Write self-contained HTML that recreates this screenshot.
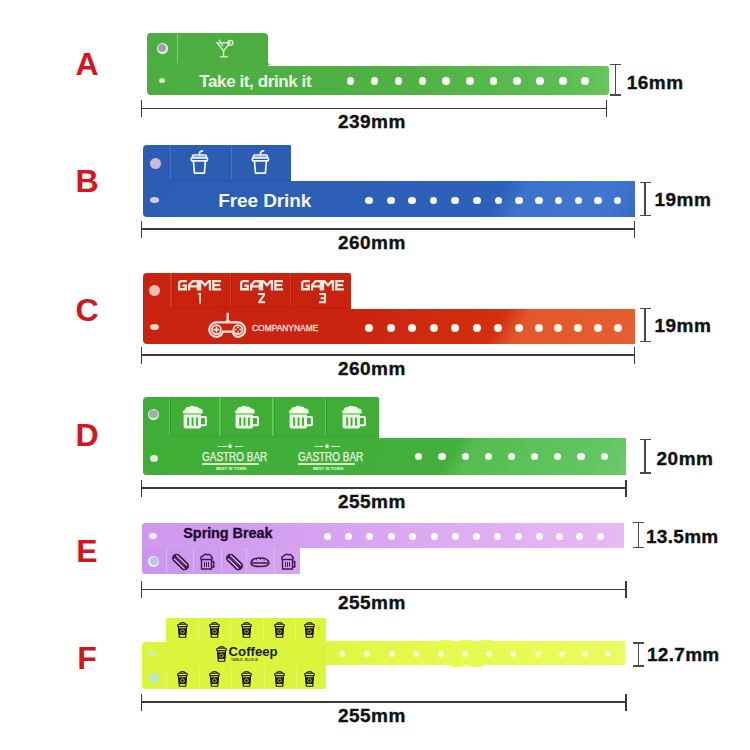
<!DOCTYPE html><html><head><meta charset="utf-8"><style>html,body{margin:0;padding:0;background:#fff;width:750px;height:750px;overflow:hidden;position:relative}</style></head><body>
<div style="position:absolute;left:-213px;width:600px;text-align:center;top:48.28px;font:bold 32px/1 'Liberation Sans', sans-serif;color:#d4151d;letter-spacing:0px;white-space:nowrap;">A</div>
<div style="position:absolute;left:147px;top:33px;width:121px;height:40px;background:#4cad40;border-radius:4px 4px 0 0"></div>
<div style="position:absolute;left:147px;top:65.5px;width:462px;height:29.8px;background:linear-gradient(90deg,#4cad40 0%,#4fb043 55%,#5cbd52 90%,#66c65c 100%);border-radius:0 3px 3px 4px"></div>
<div style="position:absolute;left:268px;top:62px;width:4px;height:3px;background:#4cad40;"></div>
<div style="position:absolute;left:268px;top:59px;width:6px;height:6px;background:#fff;border-radius:0 0 0 4px"></div>
<div style="position:absolute;left:176.5px;top:34px;width:1.2px;height:29px;background:rgba(170,240,150,0.55);"></div>
<div style="position:absolute;left:156.50px;top:42.50px;width:11px;height:11px;border-radius:50%;background:#e8f4e4;"></div>
<div style="position:absolute;left:157.75px;top:43.75px;width:8.5px;height:8.5px;border-radius:50%;background:#a2a0ae;"></div>
<div style="position:absolute;left:159.00px;top:77.50px;width:6px;height:5px;border-radius:50%;background:#d8e8d4;"></div>
<div style="position:absolute;left:199.3px;top:72.68px;font:bold 17px/1 'Liberation Sans', sans-serif;color:#eafbe4;letter-spacing:-0.4px;white-space:nowrap;">Take it, drink it</div>
<div style="position:absolute;left:346.90px;top:77.00px;width:7.6px;height:7.6px;border-radius:50%;background:#fbfff8;"></div>
<div style="position:absolute;left:370.90px;top:77.00px;width:7.6px;height:7.6px;border-radius:50%;background:#fbfff8;"></div>
<div style="position:absolute;left:394.80px;top:77.00px;width:7.6px;height:7.6px;border-radius:50%;background:#fbfff8;"></div>
<div style="position:absolute;left:418.70px;top:77.00px;width:7.6px;height:7.6px;border-radius:50%;background:#fbfff8;"></div>
<div style="position:absolute;left:442.20px;top:77.00px;width:7.6px;height:7.6px;border-radius:50%;background:#fbfff8;"></div>
<div style="position:absolute;left:466.20px;top:77.00px;width:7.6px;height:7.6px;border-radius:50%;background:#fbfff8;"></div>
<div style="position:absolute;left:489.60px;top:77.00px;width:7.6px;height:7.6px;border-radius:50%;background:#fbfff8;"></div>
<div style="position:absolute;left:513.00px;top:77.00px;width:7.6px;height:7.6px;border-radius:50%;background:#fbfff8;"></div>
<div style="position:absolute;left:536.00px;top:77.00px;width:7.6px;height:7.6px;border-radius:50%;background:#fbfff8;"></div>
<div style="position:absolute;left:559.20px;top:77.00px;width:7.6px;height:7.6px;border-radius:50%;background:#fbfff8;"></div>
<div style="position:absolute;left:581.40px;top:77.00px;width:7.6px;height:7.6px;border-radius:50%;background:#fbfff8;"></div>
<svg style="position:absolute;left:214px;top:37px;" width="20" height="22" viewBox="0 0 20 22"><g fill="none" stroke="#e4f8dc" stroke-width="1.3" stroke-linecap="round"><path d="M3 5.8 H16 L9.6 14 Z"/><path d="M9.6 14 V19.8 M6.2 19.8 H13.4"/><circle cx="16.4" cy="5.8" r="2.5"/><path d="M5.2 3 L8.5 9"/></g></svg>
<div style="position:absolute;left:614.85px;top:64.5px;width:1.5px;height:30.5px;background:#4a4a4a;"></div>
<div style="position:absolute;left:610.1px;top:63.75px;width:11px;height:1.5px;background:#4a4a4a;"></div>
<div style="position:absolute;left:610.1px;top:94.25px;width:11px;height:1.5px;background:#4a4a4a;"></div>
<div style="position:absolute;left:626.8px;top:72.96px;font:bold 19px/1 'Liberation Sans', sans-serif;color:#111;letter-spacing:0.45px;white-space:nowrap;-webkit-text-stroke:0.35px #111">16mm</div>
<div style="position:absolute;left:141.7px;top:107.5px;width:464.59999999999997px;height:1.6px;background:#3a3a3a;"></div>
<div style="position:absolute;left:140.89999999999998px;top:99.7px;width:1.6px;height:17.299999999999997px;background:#3a3a3a;"></div>
<div style="position:absolute;left:605.5px;top:99.7px;width:1.6px;height:17.299999999999997px;background:#3a3a3a;"></div>
<div style="position:absolute;left:338px;top:112.26px;font:bold 19px/1 'Liberation Sans', sans-serif;color:#111;letter-spacing:0.45px;white-space:nowrap;-webkit-text-stroke:0.35px #111">239mm</div>
<div style="position:absolute;left:-213px;width:600px;text-align:center;top:165.28px;font:bold 32px/1 'Liberation Sans', sans-serif;color:#d4151d;letter-spacing:0px;white-space:nowrap;">B</div>
<div style="position:absolute;left:143px;top:145px;width:148px;height:40px;background:#2c5db3;border-radius:4px 1px 0 0"></div>
<div style="position:absolute;left:143px;top:181px;width:492px;height:35.5px;background:linear-gradient(120deg,#2c5db3 2.0%, #2d60ba 71.1%, #3c72cc 75.8%, #4076d0 91.2%, #3a6dc8 99.0%);border-radius:0 0 0 4px"></div>
<div style="position:absolute;left:170px;top:146px;width:1px;height:34px;background:rgba(120,160,230,0.35);"></div>
<div style="position:absolute;left:230.5px;top:146px;width:1px;height:34px;background:rgba(120,160,230,0.35);"></div>
<div style="position:absolute;left:170px;top:179.5px;width:121px;height:1px;background:rgba(30,60,130,0.3);"></div>
<div style="position:absolute;left:149.50px;top:157.50px;width:11px;height:11px;border-radius:50%;background:#cbb6d6;"></div>
<div style="position:absolute;left:150.00px;top:197.05px;width:9px;height:5.5px;border-radius:50%;background:#dcc8e2;"></div>
<svg style="position:absolute;left:190px;top:150px;" width="19" height="25" viewBox="0 0 19 25"><g fill="none" stroke="#f2f4fb" stroke-width="1.7" stroke-linejoin="round" stroke-linecap="round"><path d="M9.5 5 V3.2 Q9.8 1.2 12.6 0.9"/><rect x="2.6" y="5" width="13.6" height="2.6" rx="0.8"/><rect x="1.4" y="7.6" width="16" height="3.2" rx="0.8"/><path d="M3.4 10.8 L4.5 23.2 H14.4 L15.4 10.8"/></g></svg>
<svg style="position:absolute;left:251px;top:150px;" width="19" height="25" viewBox="0 0 19 25"><g fill="none" stroke="#f2f4fb" stroke-width="1.7" stroke-linejoin="round" stroke-linecap="round"><path d="M9.5 5 V3.2 Q9.8 1.2 12.6 0.9"/><rect x="2.6" y="5" width="13.6" height="2.6" rx="0.8"/><rect x="1.4" y="7.6" width="16" height="3.2" rx="0.8"/><path d="M3.4 10.8 L4.5 23.2 H14.4 L15.4 10.8"/></g></svg>
<div style="position:absolute;left:218.3px;top:190.66px;font:bold 19px/1 'Liberation Sans', sans-serif;color:#f4f7fd;letter-spacing:-0.1px;white-space:nowrap;">Free Drink</div>
<div style="position:absolute;left:365.30px;top:196.60px;width:7.8px;height:7.8px;border-radius:50%;background:#fbfcff;"></div>
<div style="position:absolute;left:386.90px;top:196.60px;width:7.8px;height:7.8px;border-radius:50%;background:#fbfcff;"></div>
<div style="position:absolute;left:408.10px;top:196.60px;width:7.8px;height:7.8px;border-radius:50%;background:#fbfcff;"></div>
<div style="position:absolute;left:429.70px;top:196.60px;width:7.8px;height:7.8px;border-radius:50%;background:#fbfcff;"></div>
<div style="position:absolute;left:451.30px;top:196.60px;width:7.8px;height:7.8px;border-radius:50%;background:#fbfcff;"></div>
<div style="position:absolute;left:472.90px;top:196.60px;width:7.8px;height:7.8px;border-radius:50%;background:#fbfcff;"></div>
<div style="position:absolute;left:494.50px;top:196.60px;width:7.8px;height:7.8px;border-radius:50%;background:#fbfcff;"></div>
<div style="position:absolute;left:514.90px;top:196.60px;width:7.8px;height:7.8px;border-radius:50%;background:#fbfcff;"></div>
<div style="position:absolute;left:534.90px;top:196.60px;width:7.8px;height:7.8px;border-radius:50%;background:#fbfcff;"></div>
<div style="position:absolute;left:554.50px;top:196.60px;width:7.8px;height:7.8px;border-radius:50%;background:#fbfcff;"></div>
<div style="position:absolute;left:574.50px;top:196.60px;width:7.8px;height:7.8px;border-radius:50%;background:#fbfcff;"></div>
<div style="position:absolute;left:594.10px;top:196.60px;width:7.8px;height:7.8px;border-radius:50%;background:#fbfcff;"></div>
<div style="position:absolute;left:613.70px;top:196.60px;width:7.8px;height:7.8px;border-radius:50%;background:#fbfcff;"></div>
<div style="position:absolute;left:644.25px;top:182.7px;width:1.5px;height:33.0px;background:#4a4a4a;"></div>
<div style="position:absolute;left:639.5px;top:181.95px;width:11px;height:1.5px;background:#4a4a4a;"></div>
<div style="position:absolute;left:639.5px;top:214.95px;width:11px;height:1.5px;background:#4a4a4a;"></div>
<div style="position:absolute;left:654.5px;top:190.26px;font:bold 19px/1 'Liberation Sans', sans-serif;color:#111;letter-spacing:0.45px;white-space:nowrap;-webkit-text-stroke:0.35px #111">19mm</div>
<div style="position:absolute;left:141.7px;top:228.39999999999998px;width:492.7px;height:1.6px;background:#3a3a3a;"></div>
<div style="position:absolute;left:140.89999999999998px;top:221.3px;width:1.6px;height:16.799999999999983px;background:#3a3a3a;"></div>
<div style="position:absolute;left:633.6px;top:221.3px;width:1.6px;height:16.799999999999983px;background:#3a3a3a;"></div>
<div style="position:absolute;left:338px;top:232.66px;font:bold 19px/1 'Liberation Sans', sans-serif;color:#111;letter-spacing:0.45px;white-space:nowrap;-webkit-text-stroke:0.35px #111">260mm</div>
<div style="position:absolute;left:-213px;width:600px;text-align:center;top:294.48px;font:bold 32px/1 'Liberation Sans', sans-serif;color:#d4151d;letter-spacing:0px;white-space:nowrap;">C</div>
<div style="position:absolute;left:143px;top:272.5px;width:208px;height:40px;background:#c9230f;border-radius:4px 2px 0 0"></div>
<div style="position:absolute;left:143px;top:308.5px;width:492px;height:35px;background:linear-gradient(120deg,#c9230f 2.0%, #ca2410 42.4%, #d2300f 71.1%, #e3572a 75.8%, #e55f30 99.0%);border-radius:0 0 0 4px"></div>
<div style="position:absolute;left:170.4px;top:273px;width:1.2px;height:34px;background:rgba(235,90,70,0.45);"></div>
<div style="position:absolute;left:171.6px;top:273px;width:1px;height:34px;background:rgba(140,15,5,0.3);"></div>
<div style="position:absolute;left:230.0px;top:273px;width:1.2px;height:34px;background:rgba(235,90,70,0.45);"></div>
<div style="position:absolute;left:231.2px;top:273px;width:1px;height:34px;background:rgba(140,15,5,0.3);"></div>
<div style="position:absolute;left:289.79999999999995px;top:273px;width:1.2px;height:34px;background:rgba(235,90,70,0.45);"></div>
<div style="position:absolute;left:291.0px;top:273px;width:1px;height:34px;background:rgba(140,15,5,0.3);"></div>
<div style="position:absolute;left:171px;top:307px;width:180px;height:1px;background:rgba(150,15,5,0.2);"></div>
<div style="position:absolute;left:149.20px;top:284.50px;width:11px;height:11px;border-radius:50%;background:#f2bdb2;"></div>
<div style="position:absolute;left:149.80px;top:324.30px;width:9px;height:6px;border-radius:50%;background:#f8d8cc;"></div>
<svg style="position:absolute;left:177.7px;top:280.2px;" width="43" height="10.5" viewBox="0 0 43 10.5"><g fill="none" stroke="#fbe9de" stroke-width="2.3" stroke-linejoin="miter"><path d="M8.8 1.15 H3.5 Q1.15 1.15 1.15 3.5 V9.25 H7.75 V5.6 H4.4"/><path d="M11.15 10.4 V5 L14.6 1.15 H19.85 V10.4 M11.15 6.3 H19.85"/><path d="M22.05 10.4 V1.05 H23.2 L27 5.3 L30.8 1.05 H31.95 V10.4"/><path d="M43 1.05 H35.35 V9.35 H43 M35.35 5.2 H42.2"/></g></svg>
<svg style="position:absolute;left:196.95px;top:293px;" width="4.5" height="10.5" viewBox="0 0 4.5 10.5"><path d="M3.4 10.4 V1.05 H1.2" fill="none" stroke="#fbe9de" stroke-width="2.1"/></svg>
<svg style="position:absolute;left:239.5px;top:280.2px;" width="43" height="10.5" viewBox="0 0 43 10.5"><g fill="none" stroke="#fbe9de" stroke-width="2.3" stroke-linejoin="miter"><path d="M8.8 1.15 H3.5 Q1.15 1.15 1.15 3.5 V9.25 H7.75 V5.6 H4.4"/><path d="M11.15 10.4 V5 L14.6 1.15 H19.85 V10.4 M11.15 6.3 H19.85"/><path d="M22.05 10.4 V1.05 H23.2 L27 5.3 L30.8 1.05 H31.95 V10.4"/><path d="M43 1.05 H35.35 V9.35 H43 M35.35 5.2 H42.2"/></g></svg>
<svg style="position:absolute;left:257.5px;top:293px;" width="7" height="10.5" viewBox="0 0 7 10.5"><path d="M0 1.05 H6.8 L1 9.35 H7" fill="none" stroke="#fbe9de" stroke-width="2"/></svg>
<svg style="position:absolute;left:300.5px;top:280.2px;" width="43" height="10.5" viewBox="0 0 43 10.5"><g fill="none" stroke="#fbe9de" stroke-width="2.3" stroke-linejoin="miter"><path d="M8.8 1.15 H3.5 Q1.15 1.15 1.15 3.5 V9.25 H7.75 V5.6 H4.4"/><path d="M11.15 10.4 V5 L14.6 1.15 H19.85 V10.4 M11.15 6.3 H19.85"/><path d="M22.05 10.4 V1.05 H23.2 L27 5.3 L30.8 1.05 H31.95 V10.4"/><path d="M43 1.05 H35.35 V9.35 H43 M35.35 5.2 H42.2"/></g></svg>
<svg style="position:absolute;left:318.5px;top:293px;" width="7" height="10.5" viewBox="0 0 7 10.5"><path d="M0 1.05 H5.95 V9.35 H0 M1.6 5.2 H5.95" fill="none" stroke="#fbe9de" stroke-width="2"/></svg>
<svg style="position:absolute;left:206px;top:311px;" width="44" height="30" viewBox="0 0 44 30"><g fill="none" stroke="#fae4dc" stroke-width="2.3"><path d="M21.7 1.8 V10"/><path d="M10.5 11.4 H31.9 A7.2 7.2 0 0 1 31.9 25.8 Q28.3 25.8 26.6 20.6 H16.8 Q15.1 25.8 10.5 25.8 A7.2 7.2 0 0 1 10.5 11.4 Z"/><circle cx="10.5" cy="18.6" r="4.5" stroke-width="1.7"/><circle cx="31.9" cy="18.6" r="4.5" stroke-width="1.7"/></g><path d="M19.6 9.3 h4.2 v2 h-4.2z" fill="#fae4dc"/><g fill="#fae4dc"><path d="M9.7 15.6 h1.6 v2.2 h2.2 v1.6 h-2.2 v2.2 h-1.6 v-2.2 h-2.2 v-1.6 h2.2z"/><circle cx="31.9" cy="16.3" r="1"/><circle cx="31.9" cy="20.9" r="1"/><circle cx="29.6" cy="18.6" r="1"/><circle cx="34.2" cy="18.6" r="1"/></g></svg>
<div style="position:absolute;left:252px;top:323.43px;font:normal 9.8px/1 'Liberation Sans', sans-serif;color:#fbe4dc;letter-spacing:0px;white-space:nowrap;transform:scaleX(0.86);transform-origin:0 0;-webkit-text-stroke:0.3px #fbe4dc">COMPANYNAME</div>
<div style="position:absolute;left:365.20px;top:324.20px;width:8px;height:8px;border-radius:50%;background:#fff6ea;"></div>
<div style="position:absolute;left:386.80px;top:324.20px;width:8px;height:8px;border-radius:50%;background:#fff6ea;"></div>
<div style="position:absolute;left:408.00px;top:324.20px;width:8px;height:8px;border-radius:50%;background:#fff6ea;"></div>
<div style="position:absolute;left:429.60px;top:324.20px;width:8px;height:8px;border-radius:50%;background:#fff6ea;"></div>
<div style="position:absolute;left:451.20px;top:324.20px;width:8px;height:8px;border-radius:50%;background:#fff6ea;"></div>
<div style="position:absolute;left:472.80px;top:324.20px;width:8px;height:8px;border-radius:50%;background:#fff6ea;"></div>
<div style="position:absolute;left:494.40px;top:324.20px;width:8px;height:8px;border-radius:50%;background:#fff6ea;"></div>
<div style="position:absolute;left:514.80px;top:324.20px;width:8px;height:8px;border-radius:50%;background:#fff6ea;"></div>
<div style="position:absolute;left:534.80px;top:324.20px;width:8px;height:8px;border-radius:50%;background:#fff6ea;"></div>
<div style="position:absolute;left:554.40px;top:324.20px;width:8px;height:8px;border-radius:50%;background:#fff6ea;"></div>
<div style="position:absolute;left:574.40px;top:324.20px;width:8px;height:8px;border-radius:50%;background:#fff6ea;"></div>
<div style="position:absolute;left:594.00px;top:324.20px;width:8px;height:8px;border-radius:50%;background:#fff6ea;"></div>
<div style="position:absolute;left:613.60px;top:324.20px;width:8px;height:8px;border-radius:50%;background:#fff6ea;"></div>
<div style="position:absolute;left:644.25px;top:308.6px;width:1.5px;height:33.099999999999966px;background:#4a4a4a;"></div>
<div style="position:absolute;left:639.5px;top:307.85px;width:11px;height:1.5px;background:#4a4a4a;"></div>
<div style="position:absolute;left:639.5px;top:340.95px;width:11px;height:1.5px;background:#4a4a4a;"></div>
<div style="position:absolute;left:654.5px;top:316.26px;font:bold 19px/1 'Liberation Sans', sans-serif;color:#111;letter-spacing:0.45px;white-space:nowrap;-webkit-text-stroke:0.35px #111">19mm</div>
<div style="position:absolute;left:141.7px;top:354.0px;width:492.7px;height:1.6px;background:#3a3a3a;"></div>
<div style="position:absolute;left:140.89999999999998px;top:347px;width:1.6px;height:16.69999999999999px;background:#3a3a3a;"></div>
<div style="position:absolute;left:633.6px;top:347px;width:1.6px;height:16.69999999999999px;background:#3a3a3a;"></div>
<div style="position:absolute;left:338px;top:358.66px;font:bold 19px/1 'Liberation Sans', sans-serif;color:#111;letter-spacing:0.45px;white-space:nowrap;-webkit-text-stroke:0.35px #111">260mm</div>
<div style="position:absolute;left:-213px;width:600px;text-align:center;top:418.88px;font:bold 32px/1 'Liberation Sans', sans-serif;color:#d4151d;letter-spacing:0px;white-space:nowrap;">D</div>
<div style="position:absolute;left:143px;top:397.2px;width:236px;height:78px;background:#40ad37;border-radius:4px 2px 0 4px"></div>
<div style="position:absolute;left:143px;top:438px;width:483px;height:36.5px;background:linear-gradient(120deg,#40ad37 2.1%, #44b03b 63.0%, #55bd50 66.5%, #62c662 92.7%, #6acb6a 98.7%);border-radius:0 0 0 4px"></div>
<div style="position:absolute;left:168.5px;top:398px;width:1.6px;height:38px;background:rgba(130,220,110,0.55);"></div>
<div style="position:absolute;left:170.1px;top:398px;width:1px;height:38px;background:rgba(30,110,25,0.3);"></div>
<div style="position:absolute;left:219.3px;top:398px;width:1.6px;height:38px;background:rgba(130,220,110,0.55);"></div>
<div style="position:absolute;left:220.9px;top:398px;width:1px;height:38px;background:rgba(30,110,25,0.3);"></div>
<div style="position:absolute;left:272.1px;top:398px;width:1.6px;height:38px;background:rgba(130,220,110,0.55);"></div>
<div style="position:absolute;left:273.70000000000005px;top:398px;width:1px;height:38px;background:rgba(30,110,25,0.3);"></div>
<div style="position:absolute;left:324.5px;top:398px;width:1.6px;height:38px;background:rgba(130,220,110,0.55);"></div>
<div style="position:absolute;left:326.1px;top:398px;width:1px;height:38px;background:rgba(30,110,25,0.3);"></div>
<div style="position:absolute;left:169px;top:436px;width:210px;height:1px;background:rgba(40,110,35,0.15);"></div>
<div style="position:absolute;left:148.20px;top:408.50px;width:11px;height:11px;border-radius:50%;background:#e4f0e0;"></div>
<div style="position:absolute;left:149.45px;top:409.75px;width:8.5px;height:8.5px;border-radius:50%;background:#a8aab2;"></div>
<div style="position:absolute;left:149.70px;top:455.05px;width:8px;height:6.5px;border-radius:50%;background:#dde8da;"></div>
<svg style="position:absolute;left:182.0px;top:405.3px;" width="26" height="24" viewBox="0 0 26 24"><g fill="#eaffe4"><path d="M1.5 8.5 Q0 5.5 3 4.8 Q3.5 1.5 7 2 Q9.5 -0.3 12.5 1.6 Q15.5 0.8 17.2 3.5 Q21 3.5 20.7 7 Q21 8.5 20 8.6 H1.5 Z"/><path d="M1.6 9.6 H19 V21.5 Q19 23.5 17 23.5 H3.6 Q1.6 23.5 1.6 21.5 Z"/><path d="M19 11 H23.2 Q25 11 25 12.8 V19.5 Q25 21.3 23.2 21.3 H19 V19.3 H22.9 V13 H19 Z"/></g><g fill="#40ad37"><rect x="5.2" y="12.2" width="1.9" height="8.8" rx="0.9"/><rect x="9.6" y="12.2" width="1.9" height="8.8" rx="0.9"/><rect x="14" y="12.2" width="1.9" height="8.8" rx="0.9"/></g></svg>
<svg style="position:absolute;left:233.7px;top:405.3px;" width="26" height="24" viewBox="0 0 26 24"><g fill="#eaffe4"><path d="M1.5 8.5 Q0 5.5 3 4.8 Q3.5 1.5 7 2 Q9.5 -0.3 12.5 1.6 Q15.5 0.8 17.2 3.5 Q21 3.5 20.7 7 Q21 8.5 20 8.6 H1.5 Z"/><path d="M1.6 9.6 H19 V21.5 Q19 23.5 17 23.5 H3.6 Q1.6 23.5 1.6 21.5 Z"/><path d="M19 11 H23.2 Q25 11 25 12.8 V19.5 Q25 21.3 23.2 21.3 H19 V19.3 H22.9 V13 H19 Z"/></g><g fill="#40ad37"><rect x="5.2" y="12.2" width="1.9" height="8.8" rx="0.9"/><rect x="9.6" y="12.2" width="1.9" height="8.8" rx="0.9"/><rect x="14" y="12.2" width="1.9" height="8.8" rx="0.9"/></g></svg>
<svg style="position:absolute;left:287.7px;top:405.3px;" width="26" height="24" viewBox="0 0 26 24"><g fill="#eaffe4"><path d="M1.5 8.5 Q0 5.5 3 4.8 Q3.5 1.5 7 2 Q9.5 -0.3 12.5 1.6 Q15.5 0.8 17.2 3.5 Q21 3.5 20.7 7 Q21 8.5 20 8.6 H1.5 Z"/><path d="M1.6 9.6 H19 V21.5 Q19 23.5 17 23.5 H3.6 Q1.6 23.5 1.6 21.5 Z"/><path d="M19 11 H23.2 Q25 11 25 12.8 V19.5 Q25 21.3 23.2 21.3 H19 V19.3 H22.9 V13 H19 Z"/></g><g fill="#40ad37"><rect x="5.2" y="12.2" width="1.9" height="8.8" rx="0.9"/><rect x="9.6" y="12.2" width="1.9" height="8.8" rx="0.9"/><rect x="14" y="12.2" width="1.9" height="8.8" rx="0.9"/></g></svg>
<svg style="position:absolute;left:340.5px;top:405.3px;" width="26" height="24" viewBox="0 0 26 24"><g fill="#eaffe4"><path d="M1.5 8.5 Q0 5.5 3 4.8 Q3.5 1.5 7 2 Q9.5 -0.3 12.5 1.6 Q15.5 0.8 17.2 3.5 Q21 3.5 20.7 7 Q21 8.5 20 8.6 H1.5 Z"/><path d="M1.6 9.6 H19 V21.5 Q19 23.5 17 23.5 H3.6 Q1.6 23.5 1.6 21.5 Z"/><path d="M19 11 H23.2 Q25 11 25 12.8 V19.5 Q25 21.3 23.2 21.3 H19 V19.3 H22.9 V13 H19 Z"/></g><g fill="#40ad37"><rect x="5.2" y="12.2" width="1.9" height="8.8" rx="0.9"/><rect x="9.6" y="12.2" width="1.9" height="8.8" rx="0.9"/><rect x="14" y="12.2" width="1.9" height="8.8" rx="0.9"/></g></svg>
<div style="position:absolute;left:218.0px;top:445.5px;width:8.5px;height:1.3px;background:#e6f8df;"></div>
<div style="position:absolute;left:234.5px;top:445.5px;width:8.5px;height:1.3px;background:#e6f8df;"></div>
<svg style="position:absolute;left:227.0px;top:442.5px;" width="6" height="6" viewBox="0 0 6 6"><path d="M3 0.3 L3.8 2.2 L5.8 2.3 L4.3 3.6 L4.8 5.6 L3 4.5 L1.2 5.6 L1.7 3.6 L0.2 2.3 L2.2 2.2 Z" fill="#e6f8df"/></svg>
<div style="position:absolute;left:201.5px;top:451.23px;font:normal 12.3px/1 'Liberation Sans', sans-serif;color:#e8fae2;letter-spacing:0px;white-space:nowrap;transform:scaleX(0.81);transform-origin:0 0;-webkit-text-stroke:0.25px #e8fae2">GASTRO BAR</div>
<div style="position:absolute;left:201.5px;top:463.3px;width:57px;height:1.5px;background:rgba(225,245,215,0.9);"></div>
<div style="position:absolute;left:216.0px;top:466.53px;font:bold 4.2px/1 'Liberation Sans', sans-serif;color:#e8fae2;letter-spacing:0px;white-space:nowrap;">BEST IN TOWN</div>
<div style="position:absolute;left:314.9px;top:445.5px;width:8.5px;height:1.3px;background:#e6f8df;"></div>
<div style="position:absolute;left:331.4px;top:445.5px;width:8.5px;height:1.3px;background:#e6f8df;"></div>
<svg style="position:absolute;left:323.9px;top:442.5px;" width="6" height="6" viewBox="0 0 6 6"><path d="M3 0.3 L3.8 2.2 L5.8 2.3 L4.3 3.6 L4.8 5.6 L3 4.5 L1.2 5.6 L1.7 3.6 L0.2 2.3 L2.2 2.2 Z" fill="#e6f8df"/></svg>
<div style="position:absolute;left:298.4px;top:451.23px;font:normal 12.3px/1 'Liberation Sans', sans-serif;color:#e8fae2;letter-spacing:0px;white-space:nowrap;transform:scaleX(0.81);transform-origin:0 0;-webkit-text-stroke:0.25px #e8fae2">GASTRO BAR</div>
<div style="position:absolute;left:298.4px;top:463.3px;width:57px;height:1.5px;background:rgba(225,245,215,0.9);"></div>
<div style="position:absolute;left:312.9px;top:466.53px;font:bold 4.2px/1 'Liberation Sans', sans-serif;color:#e8fae2;letter-spacing:0px;white-space:nowrap;">BEST IN TOWN</div>
<div style="position:absolute;left:415.30px;top:453.10px;width:7.2px;height:7.2px;border-radius:50%;background:#f8fff6;"></div>
<div style="position:absolute;left:438.45px;top:453.10px;width:7.2px;height:7.2px;border-radius:50%;background:#f8fff6;"></div>
<div style="position:absolute;left:461.60px;top:453.10px;width:7.2px;height:7.2px;border-radius:50%;background:#f8fff6;"></div>
<div style="position:absolute;left:484.75px;top:453.10px;width:7.2px;height:7.2px;border-radius:50%;background:#f8fff6;"></div>
<div style="position:absolute;left:507.90px;top:453.10px;width:7.2px;height:7.2px;border-radius:50%;background:#f8fff6;"></div>
<div style="position:absolute;left:531.05px;top:453.10px;width:7.2px;height:7.2px;border-radius:50%;background:#f8fff6;"></div>
<div style="position:absolute;left:554.20px;top:453.10px;width:7.2px;height:7.2px;border-radius:50%;background:#f8fff6;"></div>
<div style="position:absolute;left:577.35px;top:453.10px;width:7.2px;height:7.2px;border-radius:50%;background:#f8fff6;"></div>
<div style="position:absolute;left:600.50px;top:453.10px;width:7.2px;height:7.2px;border-radius:50%;background:#f8fff6;"></div>
<div style="position:absolute;left:644.25px;top:439.4px;width:1.5px;height:33.60000000000002px;background:#4a4a4a;"></div>
<div style="position:absolute;left:639.5px;top:438.65px;width:11px;height:1.5px;background:#4a4a4a;"></div>
<div style="position:absolute;left:639.5px;top:472.25px;width:11px;height:1.5px;background:#4a4a4a;"></div>
<div style="position:absolute;left:656.6px;top:448.96px;font:bold 19px/1 'Liberation Sans', sans-serif;color:#111;letter-spacing:0.45px;white-space:nowrap;-webkit-text-stroke:0.35px #111">20mm</div>
<div style="position:absolute;left:141.5px;top:487.2px;width:484.5px;height:1.6px;background:#3a3a3a;"></div>
<div style="position:absolute;left:140.7px;top:479.6px;width:1.6px;height:17.399999999999977px;background:#3a3a3a;"></div>
<div style="position:absolute;left:625.2px;top:479.6px;width:1.6px;height:17.399999999999977px;background:#3a3a3a;"></div>
<div style="position:absolute;left:338px;top:492.26px;font:bold 19px/1 'Liberation Sans', sans-serif;color:#111;letter-spacing:0.45px;white-space:nowrap;-webkit-text-stroke:0.35px #111">255mm</div>
<div style="position:absolute;left:-213px;width:600px;text-align:center;top:535.28px;font:bold 32px/1 'Liberation Sans', sans-serif;color:#d4151d;letter-spacing:0px;white-space:nowrap;">E</div>
<div style="position:absolute;left:142.3px;top:522.7px;width:158px;height:51px;background:#cf98ee;border-radius:4px 0 0 4px"></div>
<div style="position:absolute;left:142.3px;top:522.7px;width:482px;height:25.3px;background:linear-gradient(90deg,#cf98ee 0%,#d5a0f0 30%,#dcaaf2 60%,#e2b2f3 80%,#e8b9f5 100%);border-radius:4px 0 0 0"></div>
<div style="position:absolute;left:142.3px;top:548px;width:158px;height:25.5px;background:linear-gradient(90deg,#cc94ed,#d6a4f0);border-radius:0 0 0 4px"></div>
<div style="position:absolute;left:166.3px;top:548px;width:1.2px;height:25px;background:rgba(230,190,250,0.7);"></div>
<div style="position:absolute;left:193px;top:548px;width:1.2px;height:25px;background:rgba(230,190,250,0.7);"></div>
<div style="position:absolute;left:220.5px;top:548px;width:1.2px;height:25px;background:rgba(230,190,250,0.7);"></div>
<div style="position:absolute;left:246.2px;top:548px;width:1.2px;height:25px;background:rgba(230,190,250,0.7);"></div>
<div style="position:absolute;left:273.9px;top:548px;width:1.2px;height:25px;background:rgba(230,190,250,0.7);"></div>
<div style="position:absolute;left:149.00px;top:532.70px;width:8px;height:6px;border-radius:50%;background:#f6f0fb;"></div>
<div style="position:absolute;left:148.20px;top:555.50px;width:11px;height:11px;border-radius:50%;background:#e8eef6;"></div>
<div style="position:absolute;left:149.70px;top:557.00px;width:8px;height:8px;border-radius:50%;background:#b9c8dc;"></div>
<div style="position:absolute;left:183.3px;top:526.28px;font:bold 14.5px/1 'Liberation Sans', sans-serif;color:#1e0a2c;letter-spacing:-0.1px;white-space:nowrap;-webkit-text-stroke:0.3px #1e0a2c">Spring Break</div>
<div style="position:absolute;left:323.50px;top:533.40px;width:7px;height:7px;border-radius:50%;background:#fdf8ff;"></div>
<div style="position:absolute;left:345.10px;top:533.40px;width:7px;height:7px;border-radius:50%;background:#fdf8ff;"></div>
<div style="position:absolute;left:366.10px;top:533.40px;width:7px;height:7px;border-radius:50%;background:#fdf8ff;"></div>
<div style="position:absolute;left:387.50px;top:533.40px;width:7px;height:7px;border-radius:50%;background:#fdf8ff;"></div>
<div style="position:absolute;left:409.10px;top:533.40px;width:7px;height:7px;border-radius:50%;background:#fdf8ff;"></div>
<div style="position:absolute;left:430.50px;top:533.40px;width:7px;height:7px;border-radius:50%;background:#fdf8ff;"></div>
<div style="position:absolute;left:451.90px;top:533.40px;width:7px;height:7px;border-radius:50%;background:#fdf8ff;"></div>
<div style="position:absolute;left:472.50px;top:533.40px;width:7px;height:7px;border-radius:50%;background:#fdf8ff;"></div>
<div style="position:absolute;left:493.90px;top:533.40px;width:7px;height:7px;border-radius:50%;background:#fdf8ff;"></div>
<div style="position:absolute;left:515.10px;top:533.40px;width:7px;height:7px;border-radius:50%;background:#fdf8ff;"></div>
<div style="position:absolute;left:535.90px;top:533.40px;width:7px;height:7px;border-radius:50%;background:#fdf8ff;"></div>
<div style="position:absolute;left:555.90px;top:533.40px;width:7px;height:7px;border-radius:50%;background:#fdf8ff;"></div>
<div style="position:absolute;left:575.90px;top:533.40px;width:7px;height:7px;border-radius:50%;background:#fdf8ff;"></div>
<div style="position:absolute;left:596.50px;top:533.40px;width:7px;height:7px;border-radius:50%;background:#fdf8ff;"></div>
<svg style="position:absolute;left:170px;top:551.7px;" width="21" height="20" viewBox="0 0 21 20"><g transform="translate(10.5 10) rotate(44)"><rect x="-10" y="-4.4" width="20" height="8.8" rx="4.2" fill="#3a1a4c"/><path d="M-7.6 -2 H7.2" stroke="#dcbcef" stroke-width="1.3"/><path d="M-7.2 2 H7.6" stroke="#dcbcef" stroke-width="1.3"/><path d="M-6 0 l1.5 -0.6 l1.5 0.6 l1.5 -0.6 l1.5 0.6 l1.5 -0.6 l1.5 0.6 l1.5 -0.6" stroke="#8a5aa8" stroke-width="0.5" fill="none"/></g></svg>
<svg style="position:absolute;left:198.8px;top:552.5px;" width="17" height="18" viewBox="0 0 17 18"><g fill="none" stroke="#3a1a4c" stroke-width="1.4" stroke-linejoin="round"><path d="M2 6.5 Q1 3.5 4 3 Q5.5 0.3 8.5 1.8 Q11 0.8 12 3.5 Q14 4 13 6.5"/><path d="M2.5 6.5 H12.5 V16 H2.5 Z"/><path d="M12.5 8.5 H14.8 V14 H12.5"/><path d="M5.5 9 V14 M7.5 9 V14 M9.5 9 V14" stroke-width="1"/></g></svg>
<svg style="position:absolute;left:223.5px;top:551.7px;" width="21" height="20" viewBox="0 0 21 20"><g transform="translate(10.5 10) rotate(44)"><rect x="-10" y="-4.4" width="20" height="8.8" rx="4.2" fill="#3a1a4c"/><path d="M-7.6 -2 H7.2" stroke="#dcbcef" stroke-width="1.3"/><path d="M-7.2 2 H7.6" stroke="#dcbcef" stroke-width="1.3"/><path d="M-6 0 l1.5 -0.6 l1.5 0.6 l1.5 -0.6 l1.5 0.6 l1.5 -0.6 l1.5 0.6 l1.5 -0.6" stroke="#8a5aa8" stroke-width="0.5" fill="none"/></g></svg>
<svg style="position:absolute;left:250px;top:556.5px;" width="21" height="12" viewBox="0 0 21 12"><g fill="none" stroke="#3a1a4c" stroke-width="1.5"><path d="M1 6 Q1.5 1 10 1 Q18.5 1 19 6 Q19 9.5 10 9.5 Q1 9.5 1 6 Z"/><path d="M1.5 6 H18.5"/><path d="M6 3 l1 -0.5 M10 2.5 l1 0 M13.5 3 l1 0.5" stroke-width="1"/></g></svg>
<svg style="position:absolute;left:280px;top:552.5px;" width="17" height="18" viewBox="0 0 17 18"><g fill="none" stroke="#3a1a4c" stroke-width="1.4" stroke-linejoin="round"><path d="M2 6.5 Q1 3.5 4 3 Q5.5 0.3 8.5 1.8 Q11 0.8 12 3.5 Q14 4 13 6.5"/><path d="M2.5 6.5 H12.5 V16 H2.5 Z"/><path d="M12.5 8.5 H14.8 V14 H12.5"/><path d="M5.5 9 V14 M7.5 9 V14 M9.5 9 V14" stroke-width="1"/></g></svg>
<div style="position:absolute;left:637.65px;top:522.6px;width:1.5px;height:25.0px;background:#4a4a4a;"></div>
<div style="position:absolute;left:632.9px;top:521.85px;width:11px;height:1.5px;background:#4a4a4a;"></div>
<div style="position:absolute;left:632.9px;top:546.85px;width:11px;height:1.5px;background:#4a4a4a;"></div>
<div style="position:absolute;left:646px;top:526.96px;font:bold 19px/1 'Liberation Sans', sans-serif;color:#111;letter-spacing:0.3px;white-space:nowrap;-webkit-text-stroke:0.35px #111">13.5mm</div>
<div style="position:absolute;left:141.5px;top:588.7px;width:484.5px;height:1.6px;background:#3a3a3a;"></div>
<div style="position:absolute;left:140.7px;top:581px;width:1.6px;height:17px;background:#3a3a3a;"></div>
<div style="position:absolute;left:625.2px;top:581px;width:1.6px;height:17px;background:#3a3a3a;"></div>
<div style="position:absolute;left:338px;top:593.26px;font:bold 19px/1 'Liberation Sans', sans-serif;color:#111;letter-spacing:0.45px;white-space:nowrap;-webkit-text-stroke:0.35px #111">255mm</div>
<div style="position:absolute;left:-213px;width:600px;text-align:center;top:642.28px;font:bold 32px/1 'Liberation Sans', sans-serif;color:#d4151d;letter-spacing:0px;white-space:nowrap;">F</div>
<div style="position:absolute;left:166px;top:617.6px;width:160px;height:30px;background:#dbf53d;border-radius:3px 2px 0 0"></div>
<div style="position:absolute;left:142.3px;top:641.5px;width:184px;height:47.5px;background:#dbf53d;border-radius:4px 0 2px 4px"></div>
<div style="position:absolute;left:326px;top:641.4px;width:298.5px;height:24.1px;background:linear-gradient(90deg,#dff742 0%,#e6fa4e 40%,#eafc5e 100%);border-radius:0 1px 1px 0"></div>
<div style="position:absolute;left:438.40px;top:639.80px;width:16px;height:4.4px;border-radius:50%;background:#e7fb50;"></div>
<div style="position:absolute;left:458.40px;top:639.80px;width:16px;height:4.4px;border-radius:50%;background:#e7fb50;"></div>
<div style="position:absolute;left:477.50px;top:639.80px;width:16px;height:4.4px;border-radius:50%;background:#e7fb50;"></div>
<div style="position:absolute;left:449.00px;top:662.90px;width:16px;height:3.8px;border-radius:50%;background:#e7fb52;"></div>
<div style="position:absolute;left:468.00px;top:662.90px;width:16px;height:3.8px;border-radius:50%;background:#e7fb52;"></div>
<div style="position:absolute;left:198.3px;top:618px;width:1px;height:23px;background:rgba(240,252,160,0.45);"></div>
<div style="position:absolute;left:199.3px;top:667px;width:1px;height:22px;background:rgba(240,252,160,0.45);"></div>
<div style="position:absolute;left:230.3px;top:618px;width:1px;height:23px;background:rgba(240,252,160,0.45);"></div>
<div style="position:absolute;left:231.3px;top:667px;width:1px;height:22px;background:rgba(240,252,160,0.45);"></div>
<div style="position:absolute;left:263px;top:618px;width:1px;height:23px;background:rgba(240,252,160,0.45);"></div>
<div style="position:absolute;left:264px;top:667px;width:1px;height:22px;background:rgba(240,252,160,0.45);"></div>
<div style="position:absolute;left:295px;top:618px;width:1px;height:23px;background:rgba(240,252,160,0.45);"></div>
<div style="position:absolute;left:296px;top:667px;width:1px;height:22px;background:rgba(240,252,160,0.45);"></div>
<div style="position:absolute;left:166.3px;top:667px;width:1px;height:22px;background:rgba(240,252,160,0.45);"></div>
<div style="position:absolute;left:148.80px;top:650.80px;width:7px;height:5px;border-radius:50%;background:#c6eec4;"></div>
<div style="position:absolute;left:148.70px;top:673.00px;width:10px;height:10px;border-radius:50%;background:#b4e8c8;"></div>
<svg style="position:absolute;left:176.9px;top:621.6px;" width="11" height="16" viewBox="0 0 11 16"><g fill="none" stroke="#18180c" stroke-width="1.15" stroke-linejoin="round"><path d="M2.6 2 Q3 0.6 5.5 0.6 Q8 0.6 8.4 2"/><rect x="0.7" y="2.2" width="9.6" height="2.4" rx="1"/><path d="M1.4 4.6 L2.3 15.2 H8.7 L9.6 4.6"/></g><path d="M1.5 6.3 H9.5 L9 12.9 H2 Z" fill="#18180c"/><circle cx="5.5" cy="9.6" r="1.8" fill="none" stroke="#cfe83a" stroke-width="0.8"/></svg>
<svg style="position:absolute;left:176.9px;top:671.3px;" width="11" height="16" viewBox="0 0 11 16"><g fill="none" stroke="#18180c" stroke-width="1.15" stroke-linejoin="round"><path d="M2.6 2 Q3 0.6 5.5 0.6 Q8 0.6 8.4 2"/><rect x="0.7" y="2.2" width="9.6" height="2.4" rx="1"/><path d="M1.4 4.6 L2.3 15.2 H8.7 L9.6 4.6"/></g><path d="M1.5 6.3 H9.5 L9 12.9 H2 Z" fill="#18180c"/><circle cx="5.5" cy="9.6" r="1.8" fill="none" stroke="#cfe83a" stroke-width="0.8"/></svg>
<svg style="position:absolute;left:208.7px;top:621.6px;" width="11" height="16" viewBox="0 0 11 16"><g fill="none" stroke="#18180c" stroke-width="1.15" stroke-linejoin="round"><path d="M2.6 2 Q3 0.6 5.5 0.6 Q8 0.6 8.4 2"/><rect x="0.7" y="2.2" width="9.6" height="2.4" rx="1"/><path d="M1.4 4.6 L2.3 15.2 H8.7 L9.6 4.6"/></g><path d="M1.5 6.3 H9.5 L9 12.9 H2 Z" fill="#18180c"/><circle cx="5.5" cy="9.6" r="1.8" fill="none" stroke="#cfe83a" stroke-width="0.8"/></svg>
<svg style="position:absolute;left:208.7px;top:671.3px;" width="11" height="16" viewBox="0 0 11 16"><g fill="none" stroke="#18180c" stroke-width="1.15" stroke-linejoin="round"><path d="M2.6 2 Q3 0.6 5.5 0.6 Q8 0.6 8.4 2"/><rect x="0.7" y="2.2" width="9.6" height="2.4" rx="1"/><path d="M1.4 4.6 L2.3 15.2 H8.7 L9.6 4.6"/></g><path d="M1.5 6.3 H9.5 L9 12.9 H2 Z" fill="#18180c"/><circle cx="5.5" cy="9.6" r="1.8" fill="none" stroke="#cfe83a" stroke-width="0.8"/></svg>
<svg style="position:absolute;left:241.1px;top:621.6px;" width="11" height="16" viewBox="0 0 11 16"><g fill="none" stroke="#18180c" stroke-width="1.15" stroke-linejoin="round"><path d="M2.6 2 Q3 0.6 5.5 0.6 Q8 0.6 8.4 2"/><rect x="0.7" y="2.2" width="9.6" height="2.4" rx="1"/><path d="M1.4 4.6 L2.3 15.2 H8.7 L9.6 4.6"/></g><path d="M1.5 6.3 H9.5 L9 12.9 H2 Z" fill="#18180c"/><circle cx="5.5" cy="9.6" r="1.8" fill="none" stroke="#cfe83a" stroke-width="0.8"/></svg>
<svg style="position:absolute;left:241.1px;top:671.3px;" width="11" height="16" viewBox="0 0 11 16"><g fill="none" stroke="#18180c" stroke-width="1.15" stroke-linejoin="round"><path d="M2.6 2 Q3 0.6 5.5 0.6 Q8 0.6 8.4 2"/><rect x="0.7" y="2.2" width="9.6" height="2.4" rx="1"/><path d="M1.4 4.6 L2.3 15.2 H8.7 L9.6 4.6"/></g><path d="M1.5 6.3 H9.5 L9 12.9 H2 Z" fill="#18180c"/><circle cx="5.5" cy="9.6" r="1.8" fill="none" stroke="#cfe83a" stroke-width="0.8"/></svg>
<svg style="position:absolute;left:273.5px;top:621.6px;" width="11" height="16" viewBox="0 0 11 16"><g fill="none" stroke="#18180c" stroke-width="1.15" stroke-linejoin="round"><path d="M2.6 2 Q3 0.6 5.5 0.6 Q8 0.6 8.4 2"/><rect x="0.7" y="2.2" width="9.6" height="2.4" rx="1"/><path d="M1.4 4.6 L2.3 15.2 H8.7 L9.6 4.6"/></g><path d="M1.5 6.3 H9.5 L9 12.9 H2 Z" fill="#18180c"/><circle cx="5.5" cy="9.6" r="1.8" fill="none" stroke="#cfe83a" stroke-width="0.8"/></svg>
<svg style="position:absolute;left:273.5px;top:671.3px;" width="11" height="16" viewBox="0 0 11 16"><g fill="none" stroke="#18180c" stroke-width="1.15" stroke-linejoin="round"><path d="M2.6 2 Q3 0.6 5.5 0.6 Q8 0.6 8.4 2"/><rect x="0.7" y="2.2" width="9.6" height="2.4" rx="1"/><path d="M1.4 4.6 L2.3 15.2 H8.7 L9.6 4.6"/></g><path d="M1.5 6.3 H9.5 L9 12.9 H2 Z" fill="#18180c"/><circle cx="5.5" cy="9.6" r="1.8" fill="none" stroke="#cfe83a" stroke-width="0.8"/></svg>
<svg style="position:absolute;left:304.1px;top:621.6px;" width="11" height="16" viewBox="0 0 11 16"><g fill="none" stroke="#18180c" stroke-width="1.15" stroke-linejoin="round"><path d="M2.6 2 Q3 0.6 5.5 0.6 Q8 0.6 8.4 2"/><rect x="0.7" y="2.2" width="9.6" height="2.4" rx="1"/><path d="M1.4 4.6 L2.3 15.2 H8.7 L9.6 4.6"/></g><path d="M1.5 6.3 H9.5 L9 12.9 H2 Z" fill="#18180c"/><circle cx="5.5" cy="9.6" r="1.8" fill="none" stroke="#cfe83a" stroke-width="0.8"/></svg>
<svg style="position:absolute;left:304.1px;top:671.3px;" width="11" height="16" viewBox="0 0 11 16"><g fill="none" stroke="#18180c" stroke-width="1.15" stroke-linejoin="round"><path d="M2.6 2 Q3 0.6 5.5 0.6 Q8 0.6 8.4 2"/><rect x="0.7" y="2.2" width="9.6" height="2.4" rx="1"/><path d="M1.4 4.6 L2.3 15.2 H8.7 L9.6 4.6"/></g><path d="M1.5 6.3 H9.5 L9 12.9 H2 Z" fill="#18180c"/><circle cx="5.5" cy="9.6" r="1.8" fill="none" stroke="#cfe83a" stroke-width="0.8"/></svg>
<svg style="position:absolute;left:216px;top:645.6px;" width="11" height="16" viewBox="0 0 11 16"><g fill="none" stroke="#18180c" stroke-width="1.15" stroke-linejoin="round"><path d="M2.6 2 Q3 0.6 5.5 0.6 Q8 0.6 8.4 2"/><rect x="0.7" y="2.2" width="9.6" height="2.4" rx="1"/><path d="M1.4 4.6 L2.3 15.2 H8.7 L9.6 4.6"/></g><path d="M1.5 6.3 H9.5 L9 12.9 H2 Z" fill="#18180c"/><circle cx="5.5" cy="9.6" r="1.8" fill="none" stroke="#cfe83a" stroke-width="0.8"/></svg>
<div style="position:absolute;left:228.6px;top:644.89px;font:bold 13.2px/1 'Liberation Sans', sans-serif;color:#1a1a10;letter-spacing:0px;white-space:nowrap;">Coffeep</div>
<div style="position:absolute;left:231px;top:658.72px;font:bold 3.6px/1 'Liberation Sans', sans-serif;color:#555540;letter-spacing:0px;white-space:nowrap;">TABLE, BLVD B</div>
<div style="position:absolute;left:339.20px;top:650.50px;width:6px;height:6px;border-radius:50%;background:#f6fdcc;"></div>
<div style="position:absolute;left:364.00px;top:650.50px;width:6px;height:6px;border-radius:50%;background:#f6fdcc;"></div>
<div style="position:absolute;left:388.70px;top:650.50px;width:6px;height:6px;border-radius:50%;background:#f6fdcc;"></div>
<div style="position:absolute;left:413.00px;top:650.50px;width:6px;height:6px;border-radius:50%;background:#f6fdcc;"></div>
<div style="position:absolute;left:437.70px;top:650.50px;width:6px;height:6px;border-radius:50%;background:#f6fdcc;"></div>
<div style="position:absolute;left:462.00px;top:650.50px;width:6px;height:6px;border-radius:50%;background:#f6fdcc;"></div>
<div style="position:absolute;left:486.40px;top:650.50px;width:6px;height:6px;border-radius:50%;background:#f6fdcc;"></div>
<div style="position:absolute;left:510.30px;top:650.50px;width:6px;height:6px;border-radius:50%;background:#f6fdcc;"></div>
<div style="position:absolute;left:534.60px;top:650.50px;width:6px;height:6px;border-radius:50%;background:#f6fdcc;"></div>
<div style="position:absolute;left:558.50px;top:650.50px;width:6px;height:6px;border-radius:50%;background:#f6fdcc;"></div>
<div style="position:absolute;left:582.00px;top:650.50px;width:6px;height:6px;border-radius:50%;background:#f6fdcc;"></div>
<div style="position:absolute;left:605.40px;top:650.50px;width:6px;height:6px;border-radius:50%;background:#f6fdcc;"></div>
<div style="position:absolute;left:637.65px;top:643px;width:1.5px;height:23px;background:#4a4a4a;"></div>
<div style="position:absolute;left:632.9px;top:642.25px;width:11px;height:1.5px;background:#4a4a4a;"></div>
<div style="position:absolute;left:632.9px;top:665.25px;width:11px;height:1.5px;background:#4a4a4a;"></div>
<div style="position:absolute;left:647px;top:644.96px;font:bold 19px/1 'Liberation Sans', sans-serif;color:#111;letter-spacing:0.3px;white-space:nowrap;-webkit-text-stroke:0.35px #111">12.7mm</div>
<div style="position:absolute;left:141.5px;top:701.2px;width:484.5px;height:1.6px;background:#3a3a3a;"></div>
<div style="position:absolute;left:140.7px;top:694px;width:1.6px;height:17px;background:#3a3a3a;"></div>
<div style="position:absolute;left:625.2px;top:694px;width:1.6px;height:17px;background:#3a3a3a;"></div>
<div style="position:absolute;left:338px;top:706.26px;font:bold 19px/1 'Liberation Sans', sans-serif;color:#111;letter-spacing:0.45px;white-space:nowrap;-webkit-text-stroke:0.35px #111">255mm</div>
</body></html>
